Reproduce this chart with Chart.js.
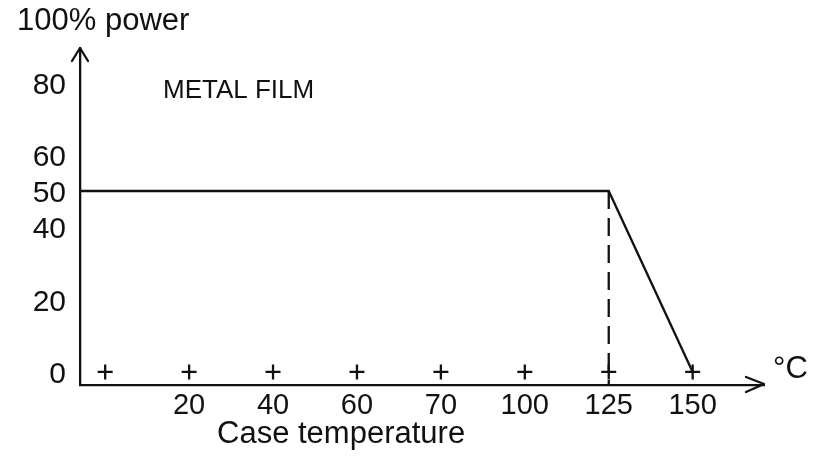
<!DOCTYPE html>
<html>
<head>
<meta charset="utf-8">
<title>Metal film derating</title>
<script src="https://cdn.jsdelivr.net/npm/chart.js@4/dist/chart.umd.min.js"></script>
<style>
    html, body { margin: 0; padding: 0; background: #fff; }
    #wrap { width: 820px; height: 461px; position: relative; }
</style>
</head>
<body>
<div id="wrap"><canvas id="canvas-derating"></canvas></div>
<script>
// case temperatures marked on the x axis (drawn evenly spaced, like the original)
var temps = [0, 20, 40, 60, 70, 100, 125, 150];
var tempLabels = ['', '20', '40', '60', '70', '100', '125', '150'];
// power ticks on the y axis
var powerTicks = [0, 20, 40, 50, 60, 80];
// derating curve: full rated power up to the knee, then zero at the end
var kneeTemp = 125;
var endTemp = 150;
var ratedPower = 50;
var endPower = 0;

var ink = '#111';
var font = "'Liberation Sans', Arial, Helvetica, sans-serif";

// axis ranges (the axes run a little past the data and end in arrows)
var X_MIN = -0.3;
var X_MAX = 7.85;
var Y_MIN = -3.6;
var Y_MAX = 89.5;

// position of a temperature on the evenly spaced axis
function tempIndex(t) {
    return temps.indexOf(t);
}

// arrows on the axes and the free text labels
var decorations = {
    id: 'decorations',
    afterDraw: function(chart) {
        var ctx = chart.ctx;
        var area = chart.chartArea;
        ctx.save();
        ctx.strokeStyle = ink;
        ctx.lineWidth = 2.3;
        ctx.lineCap = 'round';
        ctx.lineJoin = 'round';
        // y axis arrow head
        ctx.beginPath();
        ctx.moveTo(area.left - 8, area.top + 13);
        ctx.lineTo(area.left, area.top);
        ctx.lineTo(area.left + 8, area.top + 13);
        ctx.stroke();
        // x axis arrow head
        ctx.beginPath();
        ctx.moveTo(area.right - 18, area.bottom - 8);
        ctx.lineTo(area.right, area.bottom - 1);
        ctx.lineTo(area.right - 18, area.bottom + 7);
        ctx.stroke();

        ctx.fillStyle = ink;
        ctx.textBaseline = 'alphabetic';
        ctx.textAlign = 'left';
        ctx.font = '31px ' + font;
        ctx.fillText('100% power', 17, 30);
        ctx.fillText('Case temperature', 217, 443);
        ctx.font = '26px ' + font;
        ctx.fillText('METAL FILM', 163, 98);
        ctx.font = '31px ' + font;
        ctx.fillText('\u00B0C', 773, 378);
        ctx.restore();
    }
};

printDeratingChart();

function printDeratingChart() {
    var curve = [
        { x: X_MIN, y: ratedPower },
        { x: tempIndex(kneeTemp), y: ratedPower },
        { x: tempIndex(endTemp), y: endPower }
    ];
    var knee = [
        { x: tempIndex(kneeTemp), y: ratedPower },
        { x: tempIndex(kneeTemp), y: Y_MIN }
    ];
    var marks = temps.map(function(t) {
        return { x: tempIndex(t), y: 0 };
    });

    var ctx = document.getElementById('canvas-derating').getContext('2d');
    var myChart = new Chart(ctx, {
        type: 'scatter',
        data: {
            datasets: [{
                label: 'Power',
                data: curve,
                showLine: true,
                borderColor: ink,
                borderWidth: 2.3,
                pointRadius: 0,
                fill: false
            }, {
                label: 'Knee',
                data: knee,
                showLine: true,
                borderColor: ink,
                borderWidth: 2.3,
                borderDash: [18, 9],
                pointRadius: 0,
                fill: false
            }, {
                label: 'Marks',
                data: marks,
                showLine: false,
                pointStyle: 'cross',
                pointRadius: 7.5,
                pointBorderWidth: 2.3,
                pointBorderColor: ink,
                pointBackgroundColor: ink
            }]
        },
        options: {
            responsive: true,
            maintainAspectRatio: false,
            animation: false,
            layout: {
                padding: { top: 48, right: 56, left: 0, bottom: 0 }
            },
            plugins: {
                legend: { display: false },
                tooltip: { enabled: false },
                title: { display: false }
            },
            scales: {
                x: {
                    type: 'linear',
                    min: X_MIN,
                    max: X_MAX,
                    grid: { display: false, drawTicks: false },
                    border: { display: true, color: ink, width: 2.3 },
                    afterBuildTicks: function(scale) {
                        scale.ticks = temps.map(function(t) {
                            return { value: tempIndex(t) };
                        });
                    },
                    afterFit: function(scale) {
                        scale.height = 76;
                    },
                    ticks: {
                        autoSkip: false,
                        maxRotation: 0,
                        padding: 4,
                        color: ink,
                        font: { family: font, size: 29 },
                        callback: function(value) {
                            return tempLabels[value];
                        }
                    }
                },
                y: {
                    type: 'linear',
                    min: Y_MIN,
                    max: Y_MAX,
                    grid: { display: false, drawTicks: false },
                    border: { display: true, color: ink, width: 2.3 },
                    afterBuildTicks: function(scale) {
                        scale.ticks = powerTicks.map(function(v) {
                            return { value: v };
                        });
                    },
                    afterFit: function(scale) {
                        scale.width = 80;
                    },
                    ticks: {
                        padding: 14,
                        labelOffset: 3,
                        color: ink,
                        font: { family: font, size: 30 },
                        callback: function(value) {
                            return value;
                        }
                    }
                }
            }
        },
        plugins: [decorations]
    });
}
</script>
</body>
</html>
